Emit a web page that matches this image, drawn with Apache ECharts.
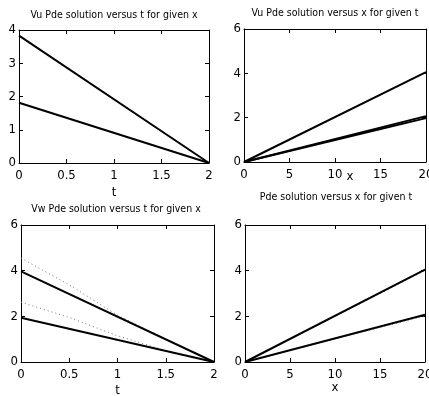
<!DOCTYPE html>
<html><head><meta charset="utf-8">
<script src="https://cdn.jsdelivr.net/npm/echarts@6/dist/echarts.min.js"></script>
<style>html,body{margin:0;padding:0;background:#fff}#c{width:429px;height:396px}</style>
</head><body><div id="c"></div>
<script>
// ---- data ----
const titles = [
  'Vu Pde solution versus t for given x',
  'Vu Pde solution versus x for given t',
  'Vw Pde solution versus t for given x',
  'Pde solution versus x for given t'
];
const tEnds = [0, 2];
const xEnds = [0, 20];
const tVals = [0, 0.5, 1, 1.5, 2];
// panel 1: Vu vs t
const vuT1 = [3.83, 0];
const vuT2 = [1.81, 0];
// panel 2: Vu vs x
const vuX1 = [0, 4.05];
const vuX2 = [0, 2.07];
const vuX3 = [0, 1.98];
// panel 3: Vw vs t
const vwT1 = [3.97, 0];
const vwT2 = [1.94, 0];
const vwT1dot = [4.55, 3.38, 2.05, 1.0, 0];
const vwT2dot = [2.62, 1.95, 1.15, 0.5, 0];
// panel 4: Pde vs x
const pdeX1 = [0, 4.05];
const pdeX2 = [0, 2.07];
const pdeX1dot = [0, 4.0];
const pdeX2dot = [0, 2.02];

const FONT = '"Liberation Sans Narrow","DejaVu Sans Condensed","Liberation Sans",sans-serif';
const pair = (xs, ys) => xs.map((x, i) => [x, ys[i]]);

const grids = [
  {left: 19, top: 30, width: 190, height: 133, outerBoundsMode: 'none', containLabel: false},
  {left: 244, top: 29, width: 182, height: 133, outerBoundsMode: 'none', containLabel: false},
  {left: 21, top: 225, width: 193, height: 137, outerBoundsMode: 'none', containLabel: false},
  {left: 245, top: 225, width: 180, height: 137, outerBoundsMode: 'none', containLabel: false}
];
const xCfg = [
  {min: 0, max: 2, interval: 0.5, name: 't', gap: 23, pad: [0,0,0,0]},
  {min: 0, max: 20, interval: 5, name: 'x', gap: 8, pad: [0,0,0,30]},
  {min: 0, max: 2, interval: 0.5, name: 't', gap: 22, pad: [0,0,0,0]},
  {min: 0, max: 20, interval: 5, name: 'x', gap: 19, pad: [0,0,0,0]}
];
const yCfg = [
  {min: 0, max: 4, interval: 1},
  {min: 0, max: 6, interval: 2},
  {min: 0, max: 6, interval: 2},
  {min: 0, max: 6, interval: 2}
];
const line = {onZero: false, lineStyle: {color: '#000', width: 1}};
const tick = {inside: true, length: 4, lineStyle: {color: '#000'}};
const xAxis = [], yAxis = [];
grids.forEach((g, i) => {
  xAxis.push({type: 'value', gridIndex: i, min: xCfg[i].min, max: xCfg[i].max, interval: xCfg[i].interval,
    position: 'bottom', axisLine: line, splitLine: {show: false}, axisTick: tick,
    axisLabel: {color: '#000', fontFamily: FONT, fontSize: 13, margin: 6, showMaxLabel: true, showMinLabel: true},
    name: xCfg[i].name, nameLocation: 'middle', nameGap: xCfg[i].gap, nameMoveOverlap: false,
    nameTextStyle: {color: '#000', fontFamily: FONT, fontSize: 13, padding: xCfg[i].pad}});
  xAxis.push({type: 'value', gridIndex: i, min: xCfg[i].min, max: xCfg[i].max, interval: xCfg[i].interval,
    position: 'top', axisLine: line, splitLine: {show: false}, axisTick: tick, axisLabel: {show: false}});
  yAxis.push({type: 'value', gridIndex: i, min: yCfg[i].min, max: yCfg[i].max, interval: yCfg[i].interval,
    position: 'left', axisLine: line, splitLine: {show: false}, axisTick: tick,
    axisLabel: {color: '#000', fontFamily: FONT, fontSize: 13, margin: 3}});
  yAxis.push({type: 'value', gridIndex: i, min: yCfg[i].min, max: yCfg[i].max, interval: yCfg[i].interval,
    position: 'right', axisLine: line, splitLine: {show: false}, axisTick: tick, axisLabel: {show: false}});
});
const solid = (i, data) => ({type: 'line', xAxisIndex: 2*i, yAxisIndex: 2*i, data, symbol: 'none',
  lineStyle: {color: '#000', width: 2}, z: 3, silent: true});
const dotted = (i, data) => ({type: 'line', xAxisIndex: 2*i, yAxisIndex: 2*i, data, symbol: 'none',
  lineStyle: {color: '#777', width: 1, type: [1, 3]}, z: 2, silent: true});
const series = [
  solid(0, pair(tEnds, vuT1)), solid(0, pair(tEnds, vuT2)),
  solid(1, pair(xEnds, vuX1)), solid(1, pair(xEnds, vuX2)), solid(1, pair(xEnds, vuX3)),
  dotted(2, pair(tVals, vwT1dot)), dotted(2, pair(tVals, vwT2dot)),
  solid(2, pair(tEnds, vwT1)), solid(2, pair(tEnds, vwT2)),
  dotted(3, pair(xEnds, pdeX1dot)), dotted(3, pair(xEnds, pdeX2dot)),
  solid(3, pair(xEnds, pdeX1)), solid(3, pair(xEnds, pdeX2))
];
const titlePos = [[114, 15], [335, 13], [116, 209], [336, 197]];
const graphic = titles.map((t, i) => ({type: 'text', x: titlePos[i][0], y: titlePos[i][1],
  style: {text: t, font: '10.5px ' + FONT, fill: '#000', align: 'center', verticalAlign: 'middle'}}));
const chart = echarts.init(document.getElementById('c'));
chart.setOption({animation: false, grid: grids, xAxis, yAxis, series, graphic});
</script></body></html>
